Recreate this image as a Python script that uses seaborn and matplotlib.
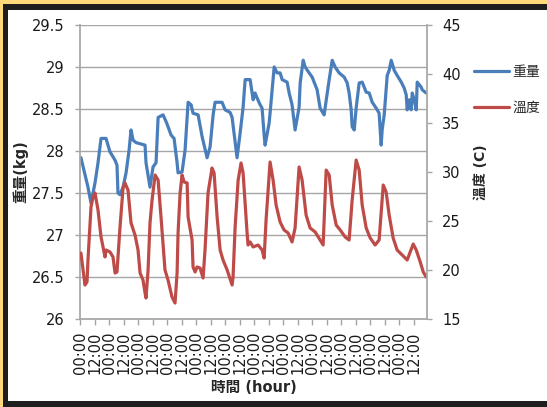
import matplotlib
matplotlib.use("Agg")
import matplotlib.pyplot as plt
from matplotlib.patches import Rectangle
from matplotlib.lines import Line2D
import seaborn as sns
import pandas as pd

# ---------------- data ----------------
weight_hours = [0.8, 6.6, 9.1, 12.4, 14.9, 17.4, 21.5, 24.8, 26.5, 29.0, 30.6, 31.4, 33.1, 35.6, 38.1,
                40.6, 42.2, 43.9, 46.3, 53.8, 54.6, 57.9, 60.4, 62.9, 64.6, 68.7, 71.2, 72.8, 75.3,
                77.8, 80.3, 81.1, 84.4, 86.9, 89.4, 91.9, 93.5, 97.7, 101.0, 105.1, 107.6, 110.1,
                111.7, 117.5, 120.0, 124.1, 125.8, 129.9, 132.4, 134.9, 136.6, 140.7, 143.2, 144.8,
                146.5, 149.0, 150.6, 152.3, 153.1, 156.4, 157.2, 160.6, 163.0, 165.5, 167.2, 171.3,
                173.0, 175.4, 177.9, 181.2, 182.1, 184.6, 186.2, 189.5, 192.0, 196.1, 198.6, 201.9,
                202.8, 206.1, 208.6, 211.0, 214.3, 218.5, 221.0, 222.6, 224.3, 225.1, 226.8, 228.4,
                230.9, 233.4, 236.7, 239.2, 241.7, 245.0, 247.4, 249.1, 249.9, 251.6, 254.1, 255.7,
                257.4, 259.9, 262.3, 265.7, 268.1, 269.8, 270.6, 272.3, 273.9, 274.8, 276.4, 278.1,
                278.9, 282.2, 283.0, 286.3]
weight_kg = [27.92, 27.57, 27.38, 27.62, 27.86, 28.15, 28.15, 27.99, 27.95, 27.89, 27.83, 27.50, 27.48,
             27.57, 27.74, 28.01, 28.25, 28.13, 28.10, 28.07, 27.86, 27.57, 27.81, 27.86, 28.40, 28.43,
             28.35, 28.29, 28.19, 28.15, 27.86, 27.74, 27.75, 28.01, 28.58, 28.55, 28.45, 28.43, 28.17,
             27.92, 28.05, 28.43, 28.58, 28.58, 28.49, 28.46, 28.40, 27.92, 28.21, 28.52, 28.85, 28.85,
             28.61, 28.69, 28.63, 28.55, 28.51, 28.19, 28.07, 28.33, 28.45, 29.00, 28.93, 28.93, 28.85,
             28.82, 28.69, 28.55, 28.25, 28.52, 28.81, 29.08, 29.00, 28.93, 28.88, 28.73, 28.51, 28.43,
             28.52, 28.85, 29.08, 29.00, 28.93, 28.88, 28.81, 28.69, 28.49, 28.29, 28.25, 28.51, 28.81,
             28.82, 28.70, 28.69, 28.58, 28.51, 28.45, 28.07, 28.25, 28.43, 28.90, 28.96, 29.08, 28.96,
             28.90, 28.82, 28.75, 28.67, 28.49, 28.61, 28.49, 28.69, 28.61, 28.49, 28.82, 28.76, 28.73,
             28.69]

temp_hours = [0.8, 4.1, 5.8, 6.6, 9.1, 10.8, 12.4, 14.9, 17.4, 20.7, 21.5, 24.8, 27.3, 29.0, 30.6,
              33.1, 35.6, 37.2, 39.7, 42.2, 45.5, 48.0, 49.7, 52.1, 53.8, 54.6, 56.3, 57.9, 59.6,
              62.1, 64.6, 67.0, 70.3, 72.8, 76.1, 78.6, 80.3, 81.1, 82.8, 84.4, 86.1, 88.6, 89.4,
              92.7, 93.5, 95.2, 96.8, 99.3, 101.8, 103.4, 105.9, 109.2, 110.9, 113.4, 115.9, 118.3,
              121.7, 125.8, 126.6, 128.3, 130.8, 133.2, 134.9, 138.2, 139.0, 140.7, 143.2, 147.3,
              150.6, 152.3, 153.9, 157.2, 159.7, 162.2, 165.5, 168.8, 172.1, 175.4, 177.9, 181.2,
              183.7, 187.0, 190.3, 194.5, 198.6, 201.1, 203.6, 206.1, 208.6, 211.9, 215.2, 219.3,
              222.6, 225.1, 228.4, 230.9, 233.4, 236.7, 240.0, 244.1, 247.4, 250.8, 253.2, 255.7,
              259.0, 262.3, 266.5, 270.6, 273.1, 275.6, 278.1, 281.4, 283.9, 286.3]
temp_c = [21.73, 18.47, 18.78, 21.02, 26.43, 27.45, 27.86, 26.12, 23.37, 21.33, 22.04, 21.84, 21.33,
          19.69, 19.80, 24.39, 28.37, 28.88, 28.16, 24.80, 23.57, 22.04, 19.69, 18.98, 17.65, 17.14,
          20.00, 24.80, 27.14, 29.69, 29.18, 25.41, 20.00, 18.98, 17.24, 16.63, 19.69, 23.78, 27.86,
          29.69, 28.98, 28.88, 25.41, 23.06, 20.31, 19.80, 20.31, 20.20, 19.18, 22.04, 27.86, 30.41,
          29.90, 25.41, 22.04, 21.02, 20.00, 18.47, 19.29, 24.39, 29.18, 30.92, 29.90, 23.78, 22.55,
          22.86, 22.35, 22.55, 22.04, 21.22, 25.10, 31.02, 29.18, 26.63, 24.90, 24.08, 23.78, 22.86,
          24.29, 30.51, 29.18, 25.61, 24.29, 23.88, 23.06, 22.55, 30.20, 29.69, 26.63, 24.59, 24.08,
          23.37, 23.06, 27.14, 31.22, 30.20, 26.63, 24.29, 23.27, 22.55, 23.06, 28.67, 27.96, 25.61,
          23.27, 22.04, 21.53, 21.02, 21.84, 22.65, 22.04, 20.82, 19.80, 19.29]

x_tick_hours = list(range(0, 277, 12))
x_tick_labels = ["00:00", "12:00"] * 12
left_ticks = [26, 26.5, 27, 27.5, 28, 28.5, 29, 29.5]
left_tick_labels = ["26", "26.5", "27", "27.5", "28", "28.5", "29", "29.5"]
right_ticks = [15, 20, 25, 30, 35, 40, 45]

series_names = ["重量", "溫度"]
x_title = "時間 (hour)"
left_title = "重量(kg)"
right_title = "溫度 (C)"

# ---------------- style ----------------
sns.set_theme(style="white")
plt.rcParams['font.family'] = ['DejaVu Sans', 'Noto Sans CJK TC']
plt.rcParams['axes.unicode_minus'] = False

BLUE = "#4A7EBB"
RED = "#BE4B48"
GRAY = "#A6A6A6"
W, H = 547, 407

fig = plt.figure(figsize=(W / 100, H / 100), dpi=100)
fig.patch.set_facecolor("#FFD97A")
fig.patches.append(Rectangle((3 / W, 0), 1, 1 - 4 / H, transform=fig.transFigure,
                             facecolor="#1E1E1E", edgecolor="none", zorder=-20))
fig.patches.append(Rectangle((8 / W, 6 / H), 1, (H - 10 - 6) / H, transform=fig.transFigure,
                             facecolor="white", edgecolor="none", zorder=-19))

ax = fig.add_axes([80 / W, 1 - 319 / H, (427 - 80) / W, (319 - 25) / H])
ax.set_facecolor("none")
ax2 = ax.twinx()

df_w = pd.DataFrame({"hour": weight_hours, "kg": weight_kg})
df_t = pd.DataFrame({"hour": temp_hours, "c": temp_c})
sns.lineplot(data=df_w, x="hour", y="kg", ax=ax, color=BLUE, linewidth=2.3, legend=False)
sns.lineplot(data=df_t, x="hour", y="c", ax=ax2, color=RED, linewidth=2.3, legend=False)

ax.set_xlim(0, 287)
ax.set_ylim(26, 29.5)
ax2.set_ylim(15, 45)

ax.set_xticks(x_tick_hours)
ax.set_xticklabels(x_tick_labels, rotation=90, fontsize=10.5)
ax.set_yticks(left_ticks)
ax.set_yticklabels(left_tick_labels, fontsize=10.5)
ax2.set_yticks(right_ticks)
ax2.set_yticklabels([str(v) for v in right_ticks], fontsize=10.5)

ax.yaxis.grid(True, color=GRAY, linewidth=1)
ax.xaxis.grid(False)
ax2.grid(False)

for a in (ax, ax2):
    for s in a.spines.values():
        s.set_visible(False)
ax.spines['left'].set_visible(True)
ax.spines['bottom'].set_visible(True)
ax.spines['left'].set_color(GRAY)
ax.spines['bottom'].set_color(GRAY)
ax2.spines['right'].set_visible(True)
ax2.spines['right'].set_color(GRAY)

ax.tick_params(axis='y', which='both', left=True, direction='out', length=3.5, width=1,
               color=GRAY, pad=7.5, labelcolor='#1a1a1a')
ax.tick_params(axis='x', which='both', bottom=True, direction='out', length=4, width=1,
               color=GRAY, pad=5, labelcolor='#1a1a1a')
ax2.tick_params(axis='y', right=True, direction='out', length=3.5, width=1,
                color=GRAY, pad=7.5, labelcolor='#1a1a1a')

ax.set_xlabel(x_title, fontsize=10.5, fontweight='bold', labelpad=4)
ax.set_ylabel(left_title, fontsize=10.5, fontweight='bold', labelpad=3)
ax2.set_ylabel(right_title, fontsize=10, fontweight='bold', labelpad=9, rotation=90)

handles = [Line2D([], [], color=BLUE, linewidth=2.3), Line2D([], [], color=RED, linewidth=2.3)]
fig.legend(handles, series_names, loc='upper left', bbox_to_anchor=(474 / W, 1 - 65 / H),
           frameon=False, fontsize=10, handlelength=2.5, handletextpad=0.25,
           labelspacing=1.6, borderpad=0, borderaxespad=0)

fig.savefig("out.png", dpi=100, facecolor=fig.get_facecolor())
